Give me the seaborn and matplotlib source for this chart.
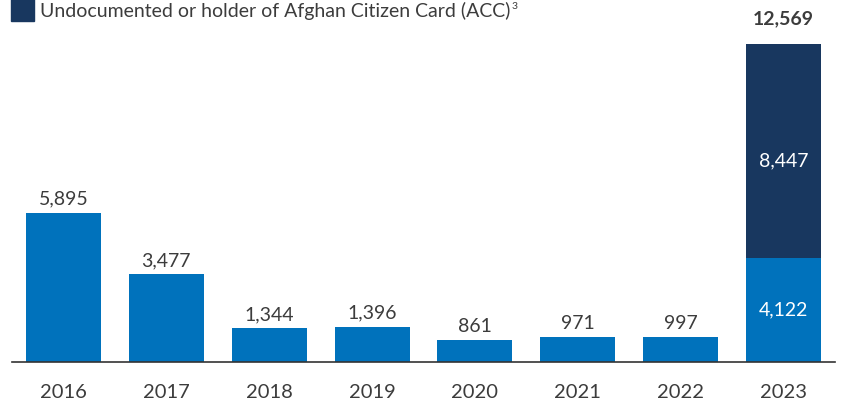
import pandas as pd
import matplotlib.pyplot as plt
import seaborn as sns

years = ['2016', '2017', '2018', '2019', '2020', '2021', '2022', '2023']
documented = [5895, 3477, 1344, 1396, 861, 971, 997, 4122]
undocumented = [0, 0, 0, 0, 0, 0, 0, 8447]
legend_label = 'Undocumented or holder of Afghan Citizen Card (ACC)'
legend_note = '3'

light_blue = '#0072BC'
navy = '#18375F'
text_color = '#3c3c3c'

data = pd.DataFrame({'year': years, 'documented': documented, 'undocumented': undocumented})
data['total'] = data['documented'] + data['undocumented']

sns.set_style('white')
plt.rcParams['font.family'] = ['Lato', 'DejaVu Sans']

fig = plt.figure(figsize=(8.41, 4.03), dpi=100)
ax = fig.add_axes([12 / 841, 41 / 403, 823 / 841, 362 / 403])

sns.barplot(x='year', y='total', data=data, color=navy, width=0.73, saturation=1,
            linewidth=0, ax=ax)
sns.barplot(x='year', y='documented', data=data, color=light_blue, width=0.73, saturation=1,
            linewidth=0, ax=ax)

ax.set_xlim(-0.5, 7.5)
ax.set_ylim(0, 14310)

for i, row in data.iterrows():
    if row['undocumented'] > 0:
        ax.text(i, row['documented'] / 2, f"{row['documented']:,}", ha='center', va='center',
                color='white', fontsize=14)
        ax.text(i, row['documented'] + row['undocumented'] / 2 - 380, f"{row['undocumented']:,}",
                ha='center', va='center', color='white', fontsize=14)
        ax.text(i, row['total'] + 650, f"{row['total']:,}", ha='center', va='bottom',
                color=text_color, fontsize=14, fontweight='bold')
    else:
        ax.text(i, row['total'] + 200, f"{row['documented']:,}", ha='center', va='bottom',
                color=text_color, fontsize=14)

ax.set_xlabel('')
ax.set_ylabel('')
ax.set_yticks([])
ax.tick_params(axis='x', length=0, labelsize=14.5, labelcolor=text_color, pad=16)
for side in ['top', 'right', 'left']:
    ax.spines[side].set_visible(False)
ax.spines['bottom'].set_color('#333333')
ax.spines['bottom'].set_linewidth(1.2)

# legend sits at the very top edge, as in the source
fig.patches.append(plt.Rectangle((11 / 841, 1 - 21 / 403), 23 / 841, 22 / 403,
                                 transform=fig.transFigure, color=navy))
leg = fig.text(40 / 841, 1 - 17 / 403, legend_label, fontsize=14, color=text_color,
               va='baseline')
fig.canvas.draw()
bb = leg.get_window_extent().transformed(fig.transFigure.inverted())
fig.text(bb.x1 + 1 / 841, 1 - 9 / 403, legend_note, fontsize=7.5, color=text_color,
         va='baseline')

plt.savefig('out.png', dpi=100)
